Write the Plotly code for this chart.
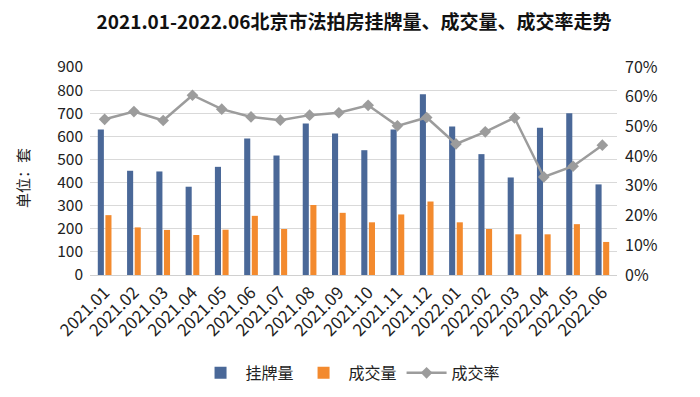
import plotly.graph_objects as go

months = ["2021.01", "2021.02", "2021.03", "2021.04", "2021.05", "2021.06",
          "2021.07", "2021.08", "2021.09", "2021.10", "2021.11", "2021.12",
          "2022.01", "2022.02", "2022.03", "2022.04", "2022.05", "2022.06"]
listings = [630, 451, 448, 382, 468, 591, 517, 656, 612, 540, 630, 782,
            643, 523, 422, 637, 700, 392]
deals = [259, 206, 195, 173, 196, 256, 199, 303, 269, 228, 262, 318,
         228, 199, 176, 176, 220, 143]
rate = [0.524, 0.550, 0.520, 0.605, 0.558, 0.532, 0.521, 0.538, 0.546, 0.571,
        0.502, 0.530, 0.441, 0.482, 0.529, 0.330, 0.366, 0.437]

font_cn = "Noto Sans CJK SC, Noto Sans, sans-serif"

fig = go.Figure()
fig.add_trace(go.Bar(x=months, y=listings, name="挂牌量",
                     marker=dict(color="#4a6898", line=dict(width=0))))
fig.add_trace(go.Bar(x=months, y=deals, name="成交量",
                     marker=dict(color="#f38a2e", line=dict(width=0))))
fig.add_trace(go.Scatter(x=months, y=rate, name="成交率", yaxis="y2",
                         mode="lines+markers",
                         line=dict(color="#9c9c9c", width=2.5),
                         marker=dict(symbol="diamond", size=9, color="#9c9c9c")))

# the page body has an 8px margin, so the figure is 8px smaller and shifted
fig.update_layout(
    width=692, height=389,
    paper_bgcolor="white", plot_bgcolor="white",
    margin=dict(l=82, r=83, t=59, b=122),
    title=dict(text="<b>2021.01-2022.06北京市法拍房挂牌量、成交量、成交率走势</b>",
               x=0.5, xanchor="center", y=0.964, yanchor="middle",
               font=dict(family=font_cn, size=19, color="#111111")),
    font=dict(family=font_cn, size=15, color="#222222"),
    barmode="group", bargap=0.48, bargroupgap=0.2,
    xaxis=dict(tickangle=-45, tickfont=dict(size=17, color="#222222"),
               range=[-0.5, len(months) - 0.5],
               showgrid=False, showline=True, linecolor="#d0d0d0",
               ticks="", automargin=False),
    yaxis=dict(range=[0, 900], dtick=100, showgrid=True, gridcolor="#d9d9d9",
               gridwidth=1, zeroline=False, ticks="", automargin=False,
               ticklabelstandoff=6,
               tickfont=dict(size=15.5, color="#222222")),
    yaxis2=dict(range=[0, 0.7], dtick=0.1, tickformat=".0%", overlaying="y",
                side="right", showgrid=False, zeroline=False, ticks="",
                automargin=False, ticklabelstandoff=7,
                tickfont=dict(size=16, color="#222222")),
    legend=dict(orientation="h", x=0.495, xanchor="center",
                xref="container", yref="container", y=0.062,
                yanchor="middle", font=dict(size=16, color="#222222"),
                itemwidth=40, traceorder="normal"),
    annotations=[dict(text="单位：套", textangle=-90, xref="paper", yref="paper",
                      x=-0.129, y=0.466, xanchor="center", yanchor="middle",
                      showarrow=False,
                      font=dict(size=15, color="#222222"))],
)

fig.write_html("out.html")
